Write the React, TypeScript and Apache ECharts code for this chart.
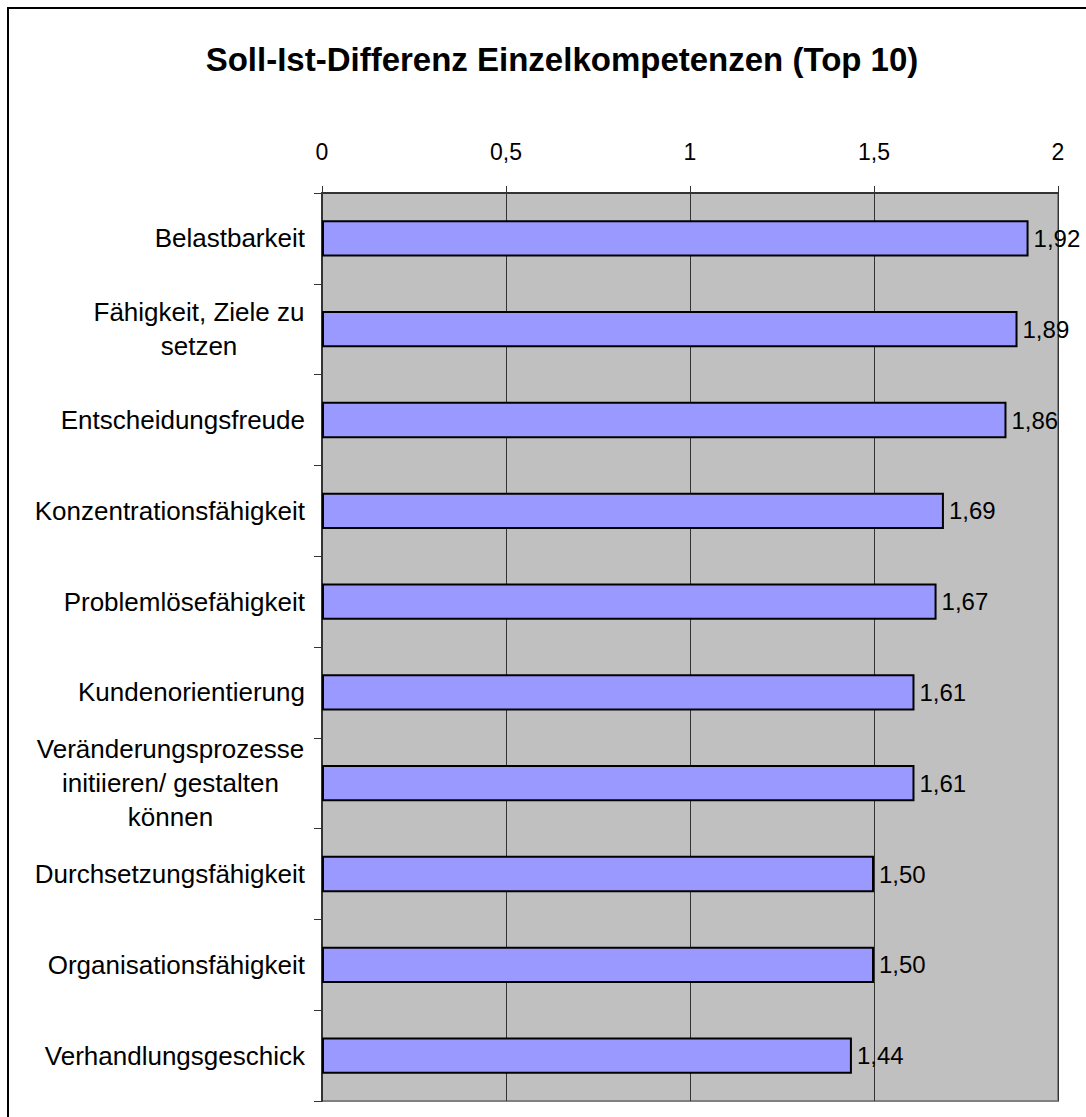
import React, { useEffect, useRef } from "react";
import * as echarts from "echarts";

const title = "Soll-Ist-Differenz Einzelkompetenzen (Top 10)";
const categories = [
  "Belastbarkeit",
  "Fähigkeit, Ziele zu\nsetzen",
  "Entscheidungsfreude",
  "Konzentrationsfähigkeit",
  "Problemlösefähigkeit",
  "Kundenorientierung",
  "Veränderungsprozesse\ninitiieren/ gestalten\nkönnen",
  "Durchsetzungsfähigkeit",
  "Organisationsfähigkeit",
  "Verhandlungsgeschick",
];
const values = [1.92, 1.89, 1.86, 1.69, 1.67, 1.61, 1.61, 1.5, 1.5, 1.44];
const axisMin = 0;
const axisMax = 2;
const axisInterval = 0.5;

const FONT = "'Liberation Sans', Arial, sans-serif";
const CAT_SIZE = 26;

export default function App() {
  const ref = useRef<HTMLDivElement>(null);
  useEffect(() => {
    if (!ref.current) return;
    const chart = echarts.init(ref.current, undefined, { renderer: "svg" });
    const comma = (v: number, d?: number) =>
      (d === undefined ? String(v) : v.toFixed(d)).replace(".", ",");
    const ctx = document.createElement("canvas").getContext("2d")!;
    ctx.font = `${CAT_SIZE}px ${FONT}`;
    const rich: Record<string, any> = {};
    const keyOf: Record<string, string> = {};
    categories.forEach((c, i) => {
      const lines = c.split("\n");
      if (lines.length > 1) {
        const w = Math.max(...lines.map((l) => ctx.measureText(l).width));
        const k = "m" + i;
        keyOf[c] = k;
        rich[k] = {
          width: Math.ceil(w) + 1,
          align: "center",
          fontSize: CAT_SIZE,
          lineHeight: 34,
          fontFamily: FONT,
          color: "#000",
        };
      }
    });
    chart.setOption({
      animation: false,
      backgroundColor: "#fff",
      textStyle: { fontFamily: FONT },
      graphic: [
        {
          type: "rect",
          shape: { x: 8, y: 8, width: 3000, height: 3000 },
          style: { fill: "none", stroke: "#000", lineWidth: 2 },
          z: -10,
        },
        {
          type: "text",
          x: 562,
          y: 59,
          style: {
            text: title,
            fontFamily: FONT,
            fontSize: 33,
            fontWeight: "bold",
            fill: "#000",
            align: "center",
            verticalAlign: "middle",
          },
        },
      ],
      grid: {
        left: 322,
        top: 193,
        right: 28,
        bottom: 16,
        show: true,
        backgroundColor: "#C0C0C0",
        borderColor: "#808080",
        borderWidth: 2,
      },
      xAxis: {
        type: "value",
        position: "top",
        min: axisMin,
        max: axisMax,
        interval: axisInterval,
        axisLine: { show: true, lineStyle: { color: "#333", width: 2 } },
        axisTick: { show: true, length: 7, lineStyle: { color: "#333", width: 1 } },
        axisLabel: {
          margin: 30,
          fontSize: 23,
          color: "#000",
          fontFamily: FONT,
          formatter: (v: number) => comma(v),
        },
        splitLine: { show: true, lineStyle: { color: "#333", width: 1 } },
      },
      yAxis: {
        type: "category",
        inverse: true,
        data: categories,
        axisLine: { show: true, lineStyle: { color: "#333", width: 2 } },
        axisTick: { show: true, length: 8, lineStyle: { color: "#333", width: 1 } },
        axisLabel: {
          margin: 17,
          fontSize: CAT_SIZE,
          lineHeight: 34,
          color: "#000",
          fontFamily: FONT,
          formatter: (v: string) => {
            const k = keyOf[v];
            if (!k) return v;
            return v.split("\n").map((l) => `{${k}|${l}}`).join("\n");
          },
          rich,
        },
        splitLine: { show: false },
      },
      series: [
        {
          type: "bar",
          data: values,
          barWidth: "40%",
          itemStyle: { color: "#9999FF", borderColor: "#000", borderWidth: 2 },
          label: {
            show: true,
            position: "right",
            distance: 5,
            fontSize: 24,
            color: "#000",
            fontFamily: FONT,
            formatter: (p: any) => comma(p.value, 2),
          },
        },
      ],
    });
    return () => chart.dispose();
  }, []);
  return (
    <div
      ref={ref}
      style={{ position: "absolute", left: 0, top: 0, width: 1086, height: 1117 }}
    />
  );
}
